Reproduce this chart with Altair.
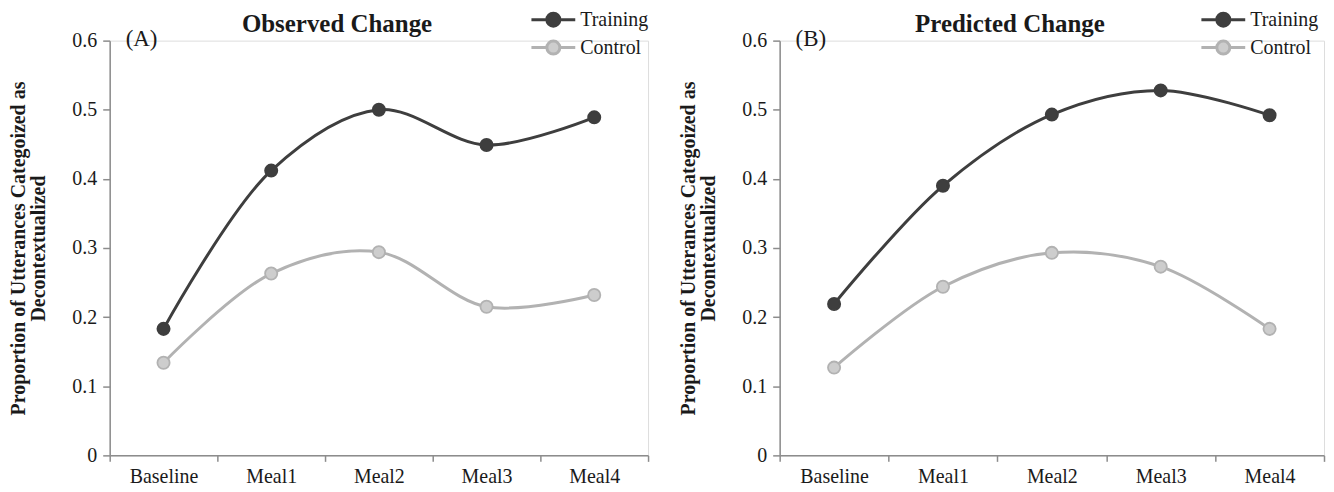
import altair as alt
import pandas as pd

meals = ["Baseline", "Meal1", "Meal2", "Meal3", "Meal4"]
series_names = ["Training", "Control"]

obs_training = [0.183, 0.412, 0.500, 0.449, 0.489]
obs_control = [0.134, 0.263, 0.294, 0.215, 0.232]
pred_training = [0.219, 0.390, 0.493, 0.528, 0.492]
pred_control = [0.127, 0.244, 0.293, 0.273, 0.183]

FONT = "Liberation Serif"
Y_TITLE = ["Proportion of Utterances Categoized as", "Decontextualized"]
AXIS_GREY = "#8c8c8c"
TEXT = "#1a1a1a"


def make_df(training, control):
    rows = []
    for m, t, c in zip(meals, training, control):
        rows.append({"meal": m, "series": "Training", "value": t})
        rows.append({"meal": m, "series": "Control", "value": c})
    return pd.DataFrame(rows)


def panel(df, title, letter, width):
    x = alt.X(
        "meal:N",
        sort=meals,
        title=None,
        scale=alt.Scale(type="band", paddingInner=0, paddingOuter=0),
        axis=alt.Axis(
            tickBand="extent",
            labelAngle=0,
            labelFontSize=20,
            labelFont=FONT,
            labelColor=TEXT,
            labelPadding=5,
            domainColor=AXIS_GREY,
            tickColor=AXIS_GREY,
            tickSize=6,
            domainWidth=1.5,
            tickWidth=1.5,
        ),
    )
    y = alt.Y(
        "value:Q",
        scale=alt.Scale(domain=[0, 0.6], nice=False),
        axis=alt.Axis(
            values=[0, 0.1, 0.2, 0.3, 0.4, 0.5, 0.6],
            format="~g",
            grid=False,
            title=Y_TITLE,
            titleFont=FONT,
            titleFontSize=20,
            titleFontWeight="bold",
            titleColor=TEXT,
            titleLineHeight=20,
            titlePadding=23,
            labelFontSize=20,
            labelFont=FONT,
            labelColor=TEXT,
            labelPadding=6,
            domainColor=AXIS_GREY,
            tickColor=AXIS_GREY,
            tickSize=7,
            domainWidth=1.5,
            tickWidth=1.5,
        ),
    )
    stroke_scale = alt.Scale(domain=series_names, range=["#3e3e3e", "#b2b2b2"])
    fill_scale = alt.Scale(domain=series_names, range=["#3e3e3e", "#cdcdcd"])
    legend = alt.Legend(
        title=None,
        orient="none",
        legendX=435,
        legendY=-31,
        padding=0,
        symbolType="M-3.14,0L-0.93,0M0.93,0L3.14,0M0.93,0A0.93,0.93 0 1,1 -0.93,0A0.93,0.93 0 1,1 0.93,0Z",
        symbolSize=196,
        symbolStrokeWidth=3,
        labelFont=FONT,
        labelFontSize=20,
        labelColor=TEXT,
        labelOffset=17,
        rowPadding=2,
    )
    base = alt.Chart(df).encode(x=x, y=y)
    line = base.mark_line(interpolate="catmull-rom", strokeWidth=3).encode(
        stroke=alt.Stroke("series:N", scale=stroke_scale, legend=legend),
        detail="series:N",
    )
    pts = base.mark_point(filled=False, size=150, strokeWidth=1.8, opacity=1).encode(
        stroke=alt.Stroke("series:N", scale=stroke_scale, legend=legend),
        fill=alt.Fill("series:N", scale=fill_scale, legend=legend),
    )
    lab = alt.Chart(pd.DataFrame({"label": [letter]})).mark_text(
        font=FONT, fontSize=23, align="left", baseline="middle", color=TEXT
    ).encode(x=alt.value(16), y=alt.value(-2), text="label:N")
    ttl = alt.Chart(pd.DataFrame({"label": [title]})).mark_text(
        font=FONT, fontSize=25, fontWeight="bold", align="center", baseline="middle", color=TEXT
    ).encode(x=alt.value(width / 2 - 42), y=alt.value(-17), text="label:N")
    return alt.layer(line, pts, lab, ttl).properties(width=width, height=416)


chart_a = panel(make_df(obs_training, obs_control), "Observed Change", "(A)", 540)
chart_b = panel(make_df(pred_training, pred_control), "Predicted Change", "(B)", 546)

chart = alt.hconcat(chart_a, chart_b, spacing=28).resolve_scale(
    stroke="independent", fill="independent"
).resolve_legend(stroke="independent", fill="independent").properties(
    padding={"left": 0, "top": 0, "right": 0, "bottom": 0}
).configure_view(stroke=None).configure(background="white")

chart.save("out.html", embed_options={"renderer": "svg", "actions": False})
